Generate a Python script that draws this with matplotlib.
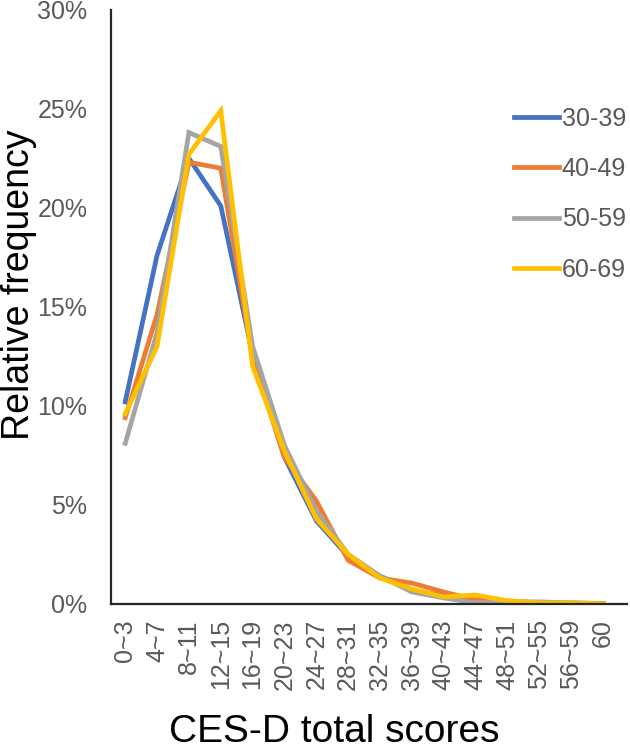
import matplotlib
matplotlib.use('Agg')
import matplotlib.pyplot as plt
from matplotlib.ticker import FuncFormatter

plt.rcParams['font.family'] = ['Liberation Sans', 'DejaVu Sans']

# score bins on the x axis
score_bins = ["0~3", "4~7", "8~11", "12~15", "16~19", "20~23", "24~27", "28~31",
              "32~35", "36~39", "40~43", "44~47", "48~51", "52~55", "56~59", "60"]

# relative frequency (%) per age group
age_30_39 = [10.2, 17.6, 22.5, 20.1, 12.6, 7.4, 4.2, 2.4, 1.4, 0.7, 0.4, 0.1, 0.1, 0.05, 0.02, 0.0]
age_40_49 = [9.4, 14.6, 22.3, 22.0, 12.4, 7.4, 5.2, 2.2, 1.3, 1.05, 0.6, 0.2, 0.15, 0.05, 0.05, 0.02]
age_50_59 = [8.1, 13.7, 23.8, 23.1, 13.0, 8.0, 4.7, 2.5, 1.4, 0.6, 0.3, 0.05, 0.1, 0.1, 0.05, 0.0]
age_60_69 = [9.6, 13.0, 22.7, 24.9, 12.0, 7.7, 4.3, 2.5, 1.3, 0.75, 0.35, 0.45, 0.15, 0.05, 0.05, 0.0]

groups = ["30-39", "40-49", "50-59", "60-69"]
series = [age_30_39, age_40_49, age_50_59, age_60_69]
colors = ["#4472C4", "#ED7D31", "#A5A5A5", "#FFC000"]

fig = plt.figure(figsize=(6.3, 7.52), dpi=100)
ax = fig.add_axes([0.176, 0.197, 0.819, 0.790])

x = list(range(len(score_bins)))
for name, vals, col in zip(groups, series, colors):
    ax.plot(x, vals, color=col, lw=3.4, label=name, solid_joinstyle='miter')

ax.set_xlim(-0.45, 15.75)
ax.set_ylim(0, 30)
ax.set_yticks([0, 5, 10, 15, 20, 25, 30])
ax.yaxis.set_major_formatter(FuncFormatter(lambda v, p: f"{v:.0f}%"))
ax.set_xticks(x)
ax.set_xticklabels(score_bins, rotation=90)

for s in ["top", "right"]:
    ax.spines[s].set_visible(False)
for s in ["left", "bottom"]:
    ax.spines[s].set_color("#262626")
    ax.spines[s].set_linewidth(1.6)

ax.tick_params(axis='y', length=0, pad=17, labelsize=18, labelcolor="#595959")
ax.tick_params(axis='x', length=0, pad=11, labelsize=18, labelcolor="#595959")

fig.text(0.030, 0.622, "Relative frequency", rotation=90, fontsize=27,
         ha='center', va='center', color='black')
fig.text(0.53, 0.026, "CES-D total scores", fontsize=28, ha='center',
         va='center', color='black')

ax.legend(loc='upper left', bbox_to_anchor=(0.816, 0.858),
          bbox_transform=fig.transFigure, frameon=False, fontsize=18,
          labelcolor="#595959", handlelength=1.8, handletextpad=0.1,
          labelspacing=1.05, borderpad=0, borderaxespad=0)

plt.savefig("out.png", dpi=100)
plt.close()
